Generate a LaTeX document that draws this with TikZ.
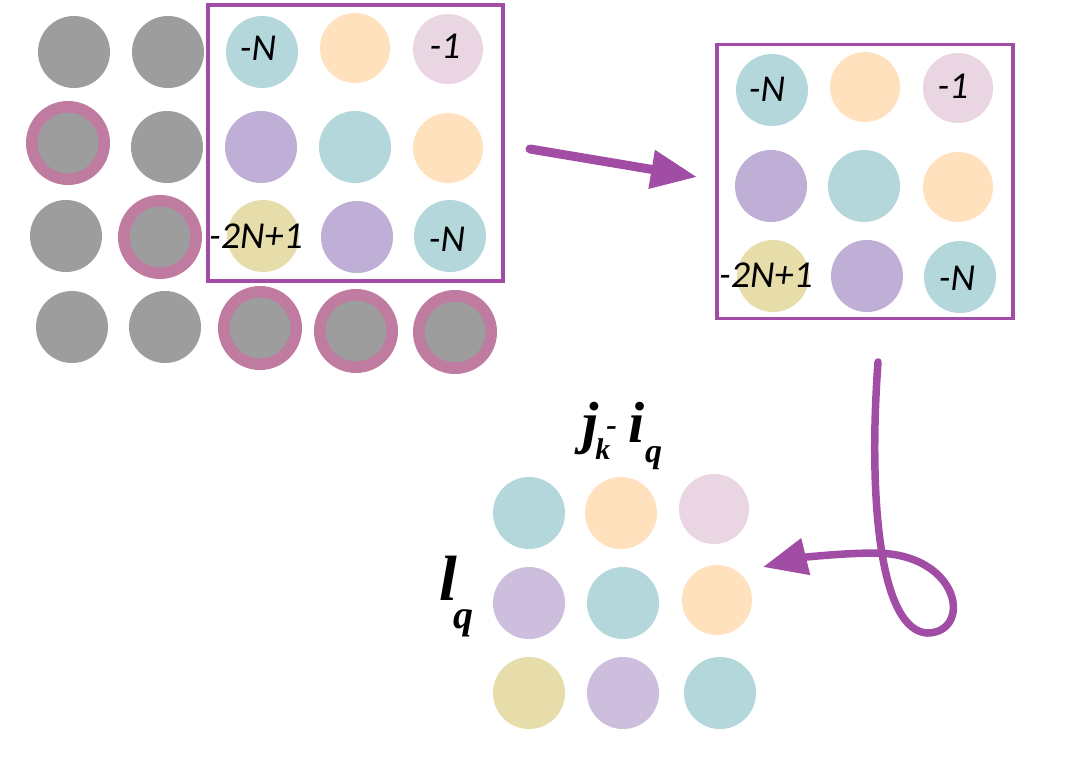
\documentclass[tikz,border=0pt]{standalone}
\usepackage{fontspec}
\setmainfont{Liberation Serif}
\newfontfamily\numfont{Carlito}
\usetikzlibrary{arrows.meta}
\definecolor{cteal}{RGB}{180,215,220}
\definecolor{cpeach}{RGB}{255,225,190}
\definecolor{cpink}{RGB}{234,214,226}
\definecolor{cpurple}{RGB}{191,174,214}
\definecolor{cpurpleb}{RGB}{205,190,222}
\definecolor{colive}{RGB}{230,221,171}
\definecolor{cgray}{RGB}{157,157,157}
\definecolor{cring}{RGB}{192,123,160}
\definecolor{cframe}{RGB}{162,77,165}
\tikzset{
  dot/.style={circle, inner sep=0pt, outer sep=0pt, minimum size=72pt},
  sdot/.style={dot, minimum size=70pt},
  gdot/.style={dot, fill=cgray},
  rdot/.style={dot, fill=cgray, draw=cring, line width=11.5pt, minimum size=72.5pt},
  num/.style={inner sep=0pt, anchor=base, font=\numfont\itshape\fontsize{38}{38}\selectfont},
  frame/.style={draw=cframe, line width=3.5pt, inner sep=0pt, outer sep=0pt},
  bigarrow/.style={draw=cframe, line width=9pt, line cap=round, -{Triangle[length=46pt,width=37pt]}},
  curvearrow/.style={draw=cframe, line width=7.5pt, line cap=round, -{Triangle[length=44pt,width=36pt]}},
  lbl/.style={inner sep=0pt, anchor=base west},
}
\newcommand{\bfit}[1]{\fontsize{#1}{#1}\selectfont\bfseries\itshape}
\begin{document}
\begin{tikzpicture}[x=1pt,y=-1pt]
\useasboundingbox (0,0) rectangle (1065,760);
\fill[white] (0,0) rectangle (1065,760);

% left grid
\node[gdot] (g11) at (74,52) {};
\node[gdot] (g12) at (168,52) {};
\node[dot, fill=cteal] (g13) at (262,52) {};
\node[sdot, fill=cpeach] (g14) at (355,48) {};
\node[sdot, fill=cpink] (g15) at (448,49) {};
\node[rdot] (g21) at (68,143) {};
\node[gdot] (g22) at (167,147) {};
\node[dot, fill=cpurple] (g23) at (261,147) {};
\node[dot, fill=cteal] (g24) at (355,147) {};
\node[sdot, fill=cpeach] (g25) at (448,148) {};
\node[gdot] (g31) at (66,236) {};
\node[rdot] (g32) at (160,237) {};
\node[dot, fill=colive] (g33) at (263,236) {};
\node[dot, fill=cpurple] (g34) at (357,237) {};
\node[dot, fill=cteal] (g35) at (450,236) {};
\node[gdot] (g41) at (72,327) {};
\node[gdot] (g42) at (165,327) {};
\node[rdot] (g43) at (260,328) {};
\node[rdot] (g44) at (356,331) {};
\node[rdot] (g45) at (455,332) {};
\node[frame, minimum width=295pt, minimum height=276pt] (box1) at (355.7,143) {};

% right grid
\node[dot, fill=cteal] (r11) at (772,90) {};
\node[sdot, fill=cpeach] (r12) at (865,87) {};
\node[sdot, fill=cpink] (r13) at (958,88) {};
\node[dot, fill=cpurple] (r21) at (771,186) {};
\node[dot, fill=cteal] (r22) at (864,186) {};
\node[sdot, fill=cpeach] (r23) at (958,187) {};
\node[dot, fill=colive] (r31) at (773,276) {};
\node[dot, fill=cpurple] (r32) at (867,276) {};
\node[dot, fill=cteal] (r33) at (960,277) {};
\node[frame, minimum width=296pt, minimum height=274pt] (box2) at (865,181.3) {};

% numbers
\node[num] (t1) at (258,61) {-N};
\node[num] (t2) at (445,59) {-1};
\node[num] (t3) at (256,248) {-2N+1};
\node[num] (t4) at (447,251) {-N};
\node[num] (t5) at (767,101) {-N};
\node[num] (t6) at (953,98) {-1};
\node[num] (t7) at (766,287) {-2N+1};
\node[num] (t8) at (957,290) {-N};

% bottom grid
\node[dot, fill=cteal] (b11) at (529,513) {};
\node[dot, fill=cpeach] (b12) at (621,513) {};
\node[sdot, fill=cpink] (b13) at (714,509) {};
\node[dot, fill=cpurpleb] (b21) at (529,603) {};
\node[dot, fill=cteal] (b22) at (623,603) {};
\node[sdot, fill=cpeach] (b23) at (717,600) {};
\node[dot, fill=colive] (b31) at (529,693) {};
\node[dot, fill=cpurpleb] (b32) at (623,693) {};
\node[dot, fill=cteal] (b33) at (720,693) {};

% labels
\node[lbl] (ljk) at (582,442) {\bfit{58}j\rlap{\kern-3pt\raisebox{-17pt}{\bfit{30}k}}\kern8pt\raisebox{7pt}{\bfit{32}-}\kern12pt i\raisebox{-20pt}{\bfit{34}q}};
\node[lbl] (llq) at (439,600) {\bfit{64}l\kern-3pt\raisebox{-28pt}{\bfit{40}q}};

% arrows
\coordinate (a1s) at (530,149);
\coordinate (a1e) at (697,177);
\draw[bigarrow] (a1s) -- (a1e);
\coordinate (c0) at (878,362);
\coordinate (c1) at (927,633);
\coordinate (c2) at (877,553);
\coordinate (c3) at (763,567);
\draw[curvearrow] (c0) .. controls (868,500) and (880,630) .. (c1)
  .. controls (972,633) and (962,555) .. (c2)
  .. controls (840,553) and (800,558) .. (c3);
\end{tikzpicture}
\end{document}
